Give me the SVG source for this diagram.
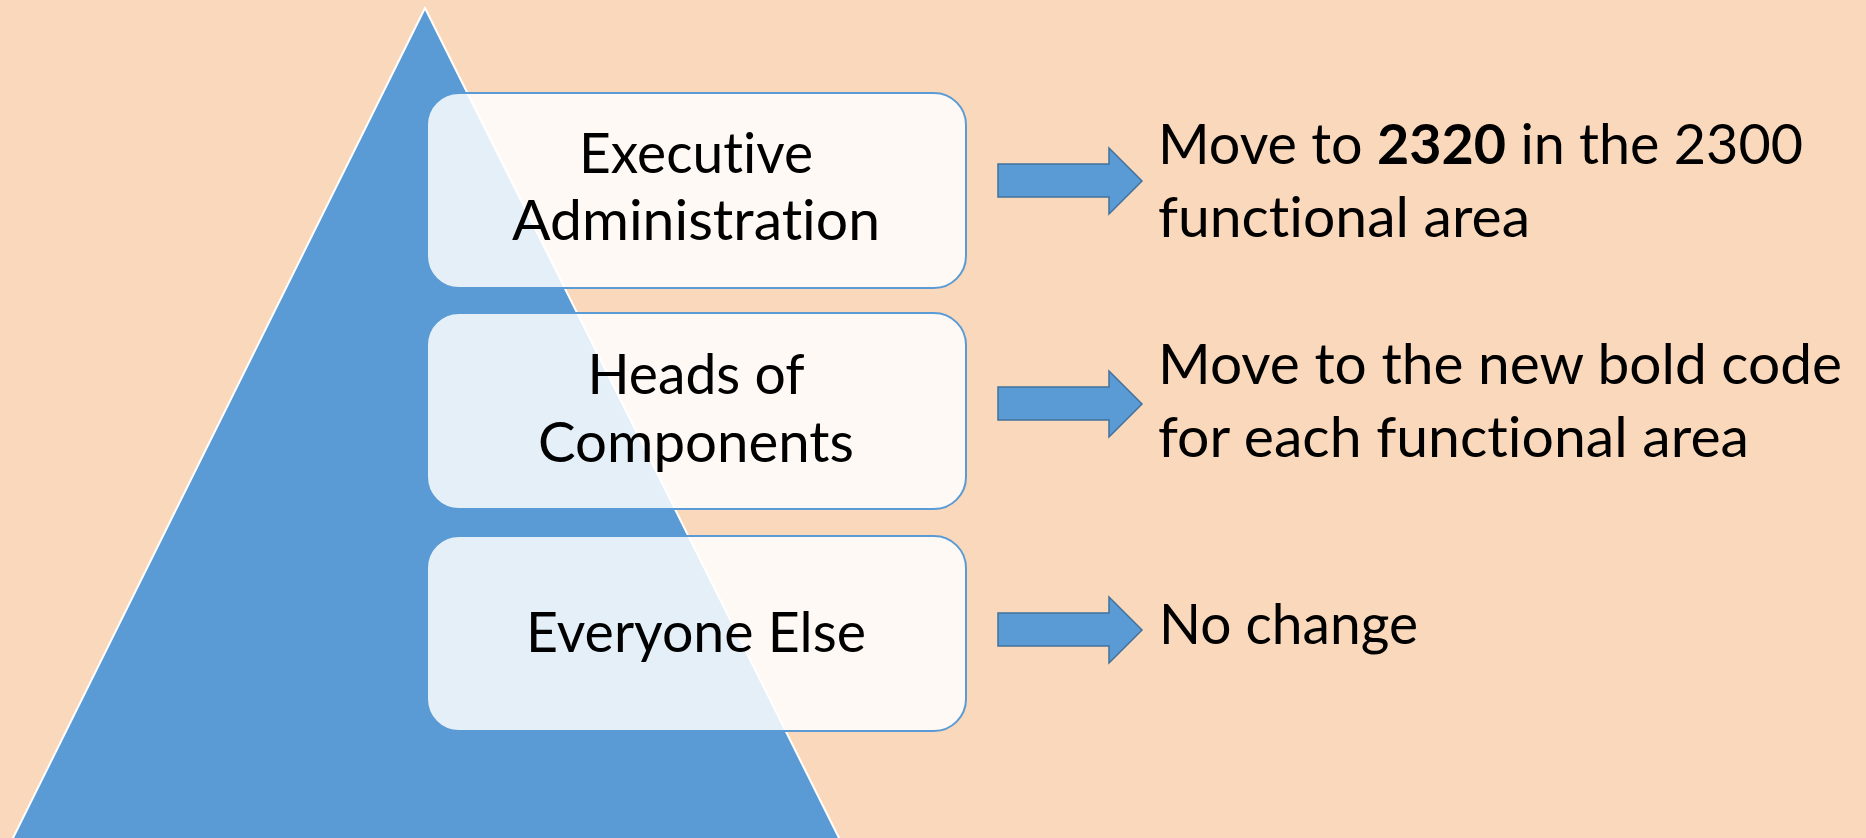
<svg xmlns="http://www.w3.org/2000/svg" width="1866" height="838" viewBox="0 0 1866 838">
<defs>
<style>
.bg{fill:#F9D8BB}
.tri{fill:#5B9BD5;stroke:#FFFFFF;stroke-width:2}
.box{fill:#FFFFFF;fill-opacity:0.84;stroke:#5B9BD5;stroke-width:2}
.arrow{fill:#5B9BD5;stroke:#41719C;stroke-width:1.5}
.t{font-family:Lato,"Open Sans","Liberation Sans",sans-serif;font-size:56px;fill:#000000;font-variant-ligatures:none}
.c{text-anchor:middle}
.b{font-weight:bold}
</style>
</defs>
<rect class="bg" x="0" y="0" width="1866" height="838"/>
<g id="pyramid">
<polygon class="tri" points="425,8 12,840 840,840"/>
</g>
<g id="node-executive">
<rect class="box" x="427" y="93" width="539" height="195" rx="32" ry="32"/>
<text class="t c" x="696" y="173" textLength="234" lengthAdjust="spacingAndGlyphs">Executive</text>
<text class="t c" x="696" y="240" textLength="368" lengthAdjust="spacingAndGlyphs">Administration</text>
</g>
<g id="node-heads">
<rect class="box" x="427" y="313" width="539" height="196" rx="32" ry="32"/>
<text class="t c" x="696" y="394" textLength="217" lengthAdjust="spacingAndGlyphs">Heads of</text>
<text class="t c" x="696" y="462" textLength="316" lengthAdjust="spacingAndGlyphs">Components</text>
</g>
<g id="node-everyone">
<rect class="box" x="427" y="536" width="539" height="195" rx="32" ry="32"/>
<text class="t c" x="696" y="652" textLength="340" lengthAdjust="spacingAndGlyphs">Everyone Else</text>
</g>
<g id="connectors">
<polygon class="arrow" points="998,164 1109,164 1109,148 1142,181 1109,214 1109,197 998,197"/>
<polygon class="arrow" points="998,387 1109,387 1109,371 1142,404 1109,437 1109,420 998,420"/>
<polygon class="arrow" points="998,613 1109,613 1109,597 1142,630 1109,663 1109,646 998,646"/>
</g>
<g id="label-executive">
<text class="t" x="1158" y="164" textLength="645" lengthAdjust="spacingAndGlyphs">Move to <tspan class="b">2320</tspan> in the 2300</text>
<text class="t" x="1158" y="237" textLength="372" lengthAdjust="spacingAndGlyphs">functional area</text>
</g>
<g id="label-heads">
<text class="t" x="1158" y="384" textLength="684" lengthAdjust="spacingAndGlyphs">Move to the new bold code</text>
<text class="t" x="1158" y="457" textLength="591" lengthAdjust="spacingAndGlyphs">for each functional area</text>
</g>
<g id="label-everyone">
<text class="t" x="1159" y="644" textLength="259" lengthAdjust="spacingAndGlyphs">No change</text>
</g>
</svg>
